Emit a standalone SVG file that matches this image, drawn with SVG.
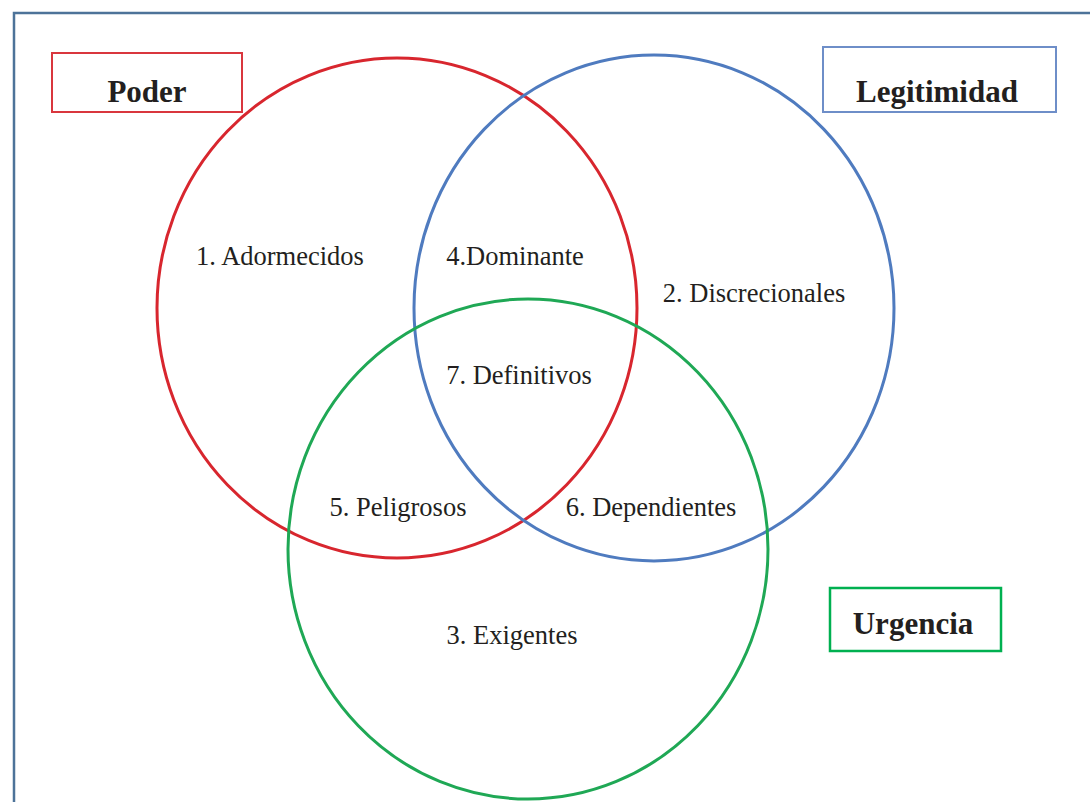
<svg xmlns="http://www.w3.org/2000/svg" width="1090" height="802" viewBox="0 0 1090 802">
<style>
.lbl{font-family:"Liberation Serif","Times New Roman",serif;font-size:26.5px;fill:#231f20;text-anchor:middle}
.ttl{font-family:"Liberation Serif","Times New Roman",serif;font-size:31px;font-weight:bold;fill:#231f20;text-anchor:middle}
.c{fill:none;stroke-width:3}
.b{fill:none}
</style>
<rect x="0" y="0" width="1090" height="802" fill="#ffffff"/>
<rect x="14" y="13" width="1100" height="820" fill="none" stroke="#4d7399" stroke-width="2.5"/>
<g id="circles">
<ellipse id="poder-circle" class="c" cx="397" cy="308" rx="240" ry="250" stroke="#d8262e"/>
<ellipse id="legitimidad-circle" class="c" cx="654" cy="308" rx="240" ry="253" stroke="#4f7bbf"/>
<ellipse id="urgencia-circle" class="c" cx="528" cy="549" rx="240" ry="250" stroke="#1fa855"/>
</g>
<g id="poder">
<rect class="b" x="52" y="53" width="190" height="59" stroke="#d9363e" stroke-width="2"/>
<text class="ttl" x="147" y="102">Poder</text>
</g>
<g id="legitimidad">
<rect class="b" x="823" y="47" width="233" height="65" stroke="#6e8ec8" stroke-width="2"/>
<text class="ttl" x="937" y="102">Legitimidad</text>
</g>
<g id="urgencia">
<rect class="b" x="830" y="588" width="171" height="63" stroke="#00b050" stroke-width="2.5"/>
<text class="ttl" x="913" y="634">Urgencia</text>
</g>
<g id="region-1"><text class="lbl" x="280" y="265">1. Adormecidos</text></g>
<g id="region-4"><text class="lbl" x="515" y="265">4.Dominante</text></g>
<g id="region-2"><text class="lbl" x="754" y="302">2. Discrecionales</text></g>
<g id="region-7"><text class="lbl" x="519" y="384">7. Definitivos</text></g>
<g id="region-5"><text class="lbl" x="398" y="516">5. Peligrosos</text></g>
<g id="region-6"><text class="lbl" x="651" y="516">6. Dependientes</text></g>
<g id="region-3"><text class="lbl" x="512" y="644">3. Exigentes</text></g>
</svg>
